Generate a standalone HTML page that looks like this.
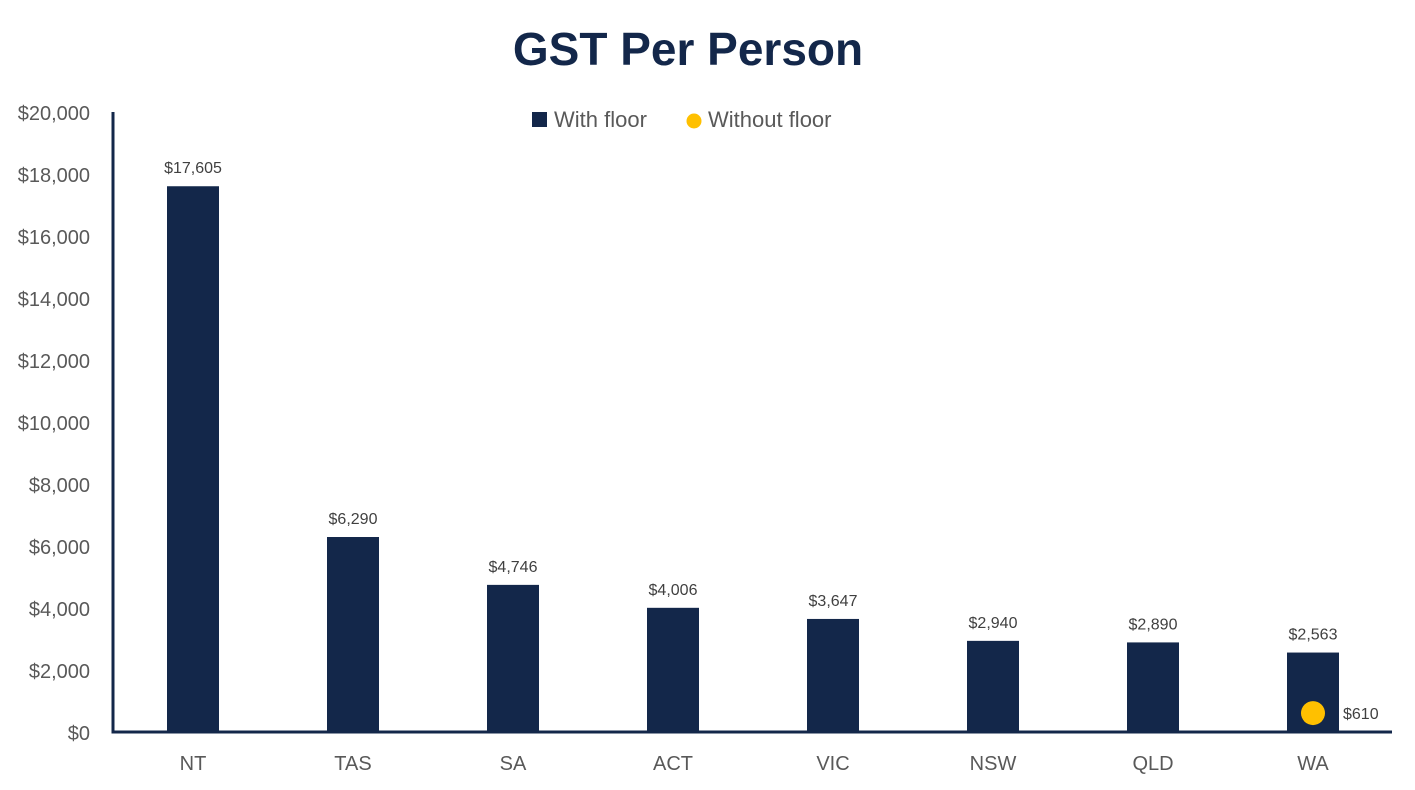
<!DOCTYPE html>
<html><head><meta charset="utf-8"><style>
body{margin:0;background:#fff;}
svg{display:block;font-family:"Liberation Sans",sans-serif;}
</style></head><body>
<svg id="chart" width="1415" height="790">
<text x="688" y="65" text-anchor="middle" font-size="46" font-weight="bold" fill="#13274a">GST Per Person</text>
<g>
<rect x="532" y="112" width="15" height="15" fill="#13274a"/>
<text x="554" y="127" font-size="22" fill="#595959">With floor</text>
<circle cx="694" cy="121" r="7.5" fill="#ffc000"/>
<text x="708" y="127" font-size="22" fill="#595959">Without floor</text>
</g>
<g id="plot"></g>
</svg>
<script>
const categories=["NT","TAS","SA","ACT","VIC","NSW","QLD","WA"];
const withFloor=[17605,6290,4746,4006,3647,2940,2890,2563];
const withoutFloor=[null,null,null,null,null,null,null,610];
const yTicks=[0,2000,4000,6000,8000,10000,12000,14000,16000,18000,20000];
const yMax=20000;
const X0=113,X1=1392,Y0=732,Y1=112,step=160,first=193,bw=52;
const ns="http://www.w3.org/2000/svg";
const g=document.getElementById('plot');
function y(v){return Y0-(v/yMax)*(Y0-Y1);}
function x(i){return first+i*step;}
function el(t,a){const e=document.createElementNS(ns,t);for(const k in a)e.setAttribute(k,a[k]);g.appendChild(e);return e;}
function fmt(v){return "$"+v.toLocaleString("en-US");}
yTicks.forEach(v=>{
 const t=el('text',{x:90,y:y(v)+8,'text-anchor':'end','font-size':20,fill:'#595959'});
 t.textContent=fmt(v);
 
 
});
categories.forEach((c,i)=>{
 const r=el('rect',{x:x(i)-bw/2,y:y(withFloor[i]),width:bw,height:Y0-y(withFloor[i]),fill:'#13274a'});
 
 
 const l=el('text',{x:x(i),y:y(withFloor[i])-13,'text-anchor':'middle','font-size':16,fill:'#404040'});
 l.textContent=fmt(withFloor[i]);
 
 
 const xl=el('text',{x:x(i),y:770,'text-anchor':'middle','font-size':20,fill:'#595959'});
 xl.textContent=c;
 
 
 if(withoutFloor[i]!=null){
  const d=el('circle',{cx:x(i),cy:y(withoutFloor[i]),r:12,fill:'#ffc000'});
  
  
  const dl=el('text',{x:x(i)+30,y:y(withoutFloor[i])+6,'font-size':16,fill:'#404040'});
  dl.textContent=fmt(withoutFloor[i]);
  
  
 }
});
const ya=el('line',{x1:X0,y1:Y1,x2:X0,y2:Y0+1.5,stroke:'#13274a','stroke-width':3});


const xa=el('line',{x1:X0-1.5,y1:Y0,x2:X1,y2:Y0,stroke:'#13274a','stroke-width':3});


</script>
</body></html>
